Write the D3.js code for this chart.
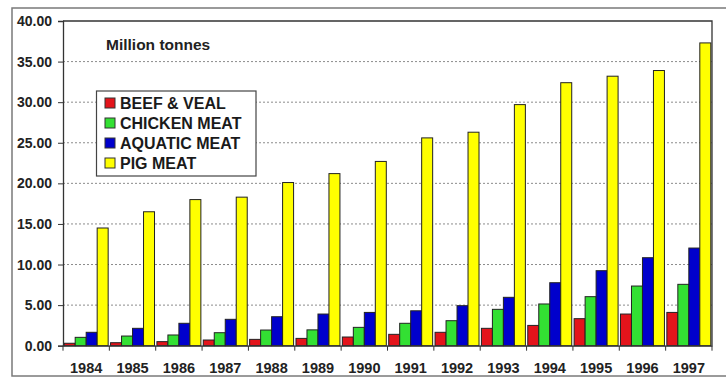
<!DOCTYPE html>
<html>
<head>
<meta charset="utf-8">
<script src="https://cdn.jsdelivr.net/npm/d3@7"></script>
<style>
  html, body { margin: 0; padding: 0; background: #fff; }
  svg { display: block; font-family: "Liberation Sans", Arial, sans-serif; }
</style>
</head>
<body>
<svg id="chart" width="726" height="380"></svg>
<script>
// World meat production by type, million tonnes
const years = ["1984", "1985", "1986", "1987", "1988", "1989", "1990",
               "1991", "1992", "1993", "1994", "1995", "1996", "1997"];
const seriesNames = ["BEEF & VEAL", "CHICKEN MEAT", "AQUATIC MEAT", "PIG MEAT"];
const beefVeal    = [0.3, 0.37, 0.5, 0.7, 0.78, 0.9, 1.07, 1.4, 1.65, 2.14, 2.5, 3.33, 3.9, 4.1];
const chickenMeat = [1.03, 1.19, 1.32, 1.6, 1.93, 1.95, 2.26, 2.76, 3.08, 4.48, 5.14, 6.04, 7.35, 7.56];
const aquaticMeat = [1.65, 2.14, 2.76, 3.25, 3.57, 3.9, 4.1, 4.3, 4.93, 5.96, 7.76, 9.24, 10.84, 12.03];
const pigMeat     = [14.5, 16.5, 18.0, 18.3, 20.1, 21.2, 22.7, 25.6, 26.3, 29.7, 32.4, 33.2, 33.9, 37.3];
const yTicks = [0, 5, 10, 15, 20, 25, 30, 35, 40];
const unitLabel = "Million tonnes";

const seriesValues = [beefVeal, chickenMeat, aquaticMeat, pigMeat];
const colors = ["#e3141b", "#33e033", "#0000cc", "#ffff00"];

const svg = d3.select("#chart");
const plotLeft = 63, plotRight = 712, plotTop = 21, plotBottom = 345.7;

// outer frame
svg.append("rect")
  .attr("x", 12).attr("y", 8).attr("width", 730).attr("height", 368)
  .attr("fill", "#fff").attr("stroke", "#7a7a7a").attr("stroke-width", 1.5);

const x0 = d3.scaleBand().domain(years).range([plotLeft, plotRight]).padding(0);
const x1 = d3.scaleBand().domain(d3.range(seriesNames.length))
  .range([1.2, x0.bandwidth() - 1.2]).padding(0);
const y = d3.scaleLinear().domain([0, 40]).range([plotBottom, plotTop]);

// dotted gridlines
svg.append("g")
  .selectAll("line")
  .data(yTicks.filter(t => t > 0 && t < 40))
  .join("line")
  .attr("x1", plotLeft).attr("x2", plotRight)
  .attr("y1", d => y(d)).attr("y2", d => y(d))
  .attr("stroke", "#8c8c8c").attr("stroke-width", 1)
  .attr("stroke-dasharray", "2,2");

// plot-area border (top and right)
svg.append("path")
  .attr("d", `M${plotLeft},${y(40)}H${plotRight}V${plotBottom}`)
  .attr("fill", "none").attr("stroke", "#333").attr("stroke-width", 1.3);

// bars
const groups = svg.append("g")
  .selectAll("g")
  .data(years)
  .join("g")
  .attr("transform", d => `translate(${x0(d)},0)`);

groups.selectAll("rect")
  .data((d, i) => seriesValues.map((vals, s) => ({ s, v: vals[i] })))
  .join("rect")
  .attr("x", d => x1(d.s))
  .attr("width", x1.bandwidth())
  .attr("y", d => y(d.v))
  .attr("height", d => y(0) - y(d.v))
  .attr("fill", d => colors[d.s])
  .attr("stroke", "#222").attr("stroke-width", 1);

// y axis
const yAxis = svg.append("g")
  .attr("transform", `translate(${plotLeft},0)`)
  .call(d3.axisLeft(y).tickValues(yTicks).tickFormat(d3.format(".2f"))
    .tickSize(5).tickPadding(6));
yAxis.select(".domain").attr("stroke", "#333").attr("stroke-width", 1.3);
yAxis.selectAll(".tick line").attr("stroke", "#333");
yAxis.selectAll("text")
  .attr("font-size", 14).attr("font-weight", "bold").attr("fill", "#222")
  .attr("font-family", "'Liberation Sans', Arial, sans-serif");

// x axis: labels centred in bands, ticks on band edges
const xAxis = svg.append("g")
  .attr("transform", `translate(0,${plotBottom})`)
  .call(d3.axisBottom(x0).tickSize(0).tickPadding(17));
xAxis.select(".domain").attr("stroke", "#333").attr("stroke-width", 1.3);
xAxis.selectAll("text")
  .attr("font-size", 14.5).attr("font-weight", "bold").attr("fill", "#222")
  .attr("font-family", "'Liberation Sans', Arial, sans-serif");
xAxis.selectAll("line.edge")
  .data(years.map(d => x0(d)).concat([plotRight]))
  .join("line")
  .attr("class", "edge")
  .attr("x1", d => d).attr("x2", d => d)
  .attr("y1", 0).attr("y2", 5)
  .attr("stroke", "#333");

// unit label
svg.append("text")
  .attr("x", 106).attr("y", 50)
  .attr("font-size", 15.5).attr("font-weight", "bold").attr("fill", "#222")
  .text(unitLabel);

// legend
const legend = svg.append("g");
legend.append("rect")
  .attr("x", 96.5).attr("y", 91).attr("width", 159.5).attr("height", 85)
  .attr("fill", "#fff").attr("stroke", "#444").attr("stroke-width", 1.2);
const items = legend.selectAll("g.item")
  .data(seriesNames)
  .join("g")
  .attr("class", "item")
  .attr("transform", (d, i) => `translate(105,${103 + i * 20})`);
items.append("rect")
  .attr("x", 0).attr("y", -5).attr("width", 10).attr("height", 10)
  .attr("fill", (d, i) => colors[i])
  .attr("stroke", "#333").attr("stroke-width", 1);
items.append("text")
  .attr("x", 15).attr("y", 6)
  .attr("font-size", 16).attr("font-weight", "bold").attr("fill", "#1a1a1a")
  .text(d => d);
</script>
</body>
</html>
